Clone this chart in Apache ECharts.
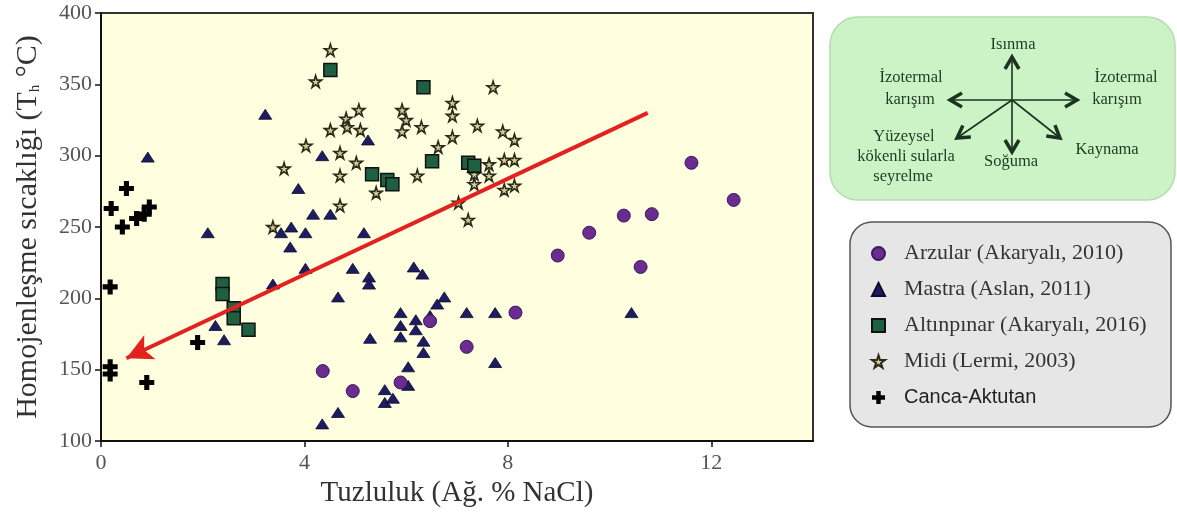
<!DOCTYPE html>
<html>
<head>
<meta charset="UTF-8">
<title>Tuzluluk - Homojenleşme sıcaklığı</title>
<script src="https://cdn.jsdelivr.net/npm/echarts@6/dist/echarts.min.js"></script>
<style>
  html, body { margin: 0; padding: 0; background: #fff; }
  #main { width: 1177px; height: 517px; }
</style>
</head>
<body>
<div id="main"></div>
<script type="text/javascript">
// [tuzluluk (% NaCl), Th (°C)]
var arzular = [[4.36,149],[4.95,135],[5.89,141],[6.47,184],[7.19,166],[8.15,190],[8.98,230],[9.6,246],
  [10.28,258],[10.61,222],[10.83,259],[11.61,295],[12.44,269]];
var mastra = [[0.92,299],[2.1,246],[2.25,181],[2.42,171],[3.23,329],[3.38,210],[3.54,246],[3.74,250],
  [3.72,236],[3.88,277],[4.02,246],[4.02,221],[4.17,259],[4.35,300],[4.35,112],[4.51,259],[4.66,201],
  [4.66,120],[4.95,221],[5.17,246],[5.25,311],[5.27,215],[5.27,210],[5.29,172],[5.58,136],[5.58,127],
  [5.74,130],[5.89,190],[5.89,181],[5.89,173],[6.04,152],[6.04,139],[6.15,222],[6.19,185],[6.19,178],
  [6.32,217],[6.34,170],[6.34,162],[6.47,188],[6.61,196],[6.75,201],[7.19,190],[7.75,190],[7.75,155],
  [10.43,190]];
var altinpinar = [[2.39,210],[2.39,203],[2.61,193],[2.61,186],[2.9,178],[4.51,360],[5.33,287],
  [5.63,283],[5.73,280],[6.34,348],[6.51,296],[7.22,295],[7.34,293]];
var midi = [[3.38,250],[3.6,291],[4.03,307],[4.22,352],[4.51,374],[4.51,318],[4.7,302],[4.7,286],
  [4.7,265],[4.82,326],[4.84,320],[5.02,295],[5.07,332],[5.1,318],[5.41,274],[5.92,332],[6.0,325],
  [5.92,317],[6.22,286],[6.3,320],[6.63,306],[6.91,337],[6.91,328],[6.91,313],[7.03,267],[7.22,255],
  [7.34,287],[7.34,280],[7.4,321],[7.63,294],[7.63,286],[7.71,348],[7.9,317],[8.13,311],[7.93,297],
  [8.13,297],[7.93,276],[8.13,279]];
var canca = [[0.2,263],[0.5,277],[0.42,250],[0.7,256],[0.85,259],[0.95,264],[0.18,208],[0.18,152],
  [0.18,147],[0.9,141],[1.9,169]];
// kırmızı ok: başlangıç -> uç
var trendArrow = [[10.75,330],[0.5,158]];
var xTicks = [0, 4, 8, 12];

var serif = "'Liberation Serif', 'Times New Roman', serif";
var sans = "'Liberation Sans', Arial, sans-serif";
var starPath = 'path://M50,0 L61,35 L98,35 L68,57 L79,91 L50,70 L21,91 L32,57 L2,35 L39,35 Z';
var crossPath = 'path://M33,0 H67 V33 H100 V67 H67 V100 H33 V67 H0 V33 H33 Z';

var myChart = echarts.init(document.getElementById('main'));

// süreç diyagramı (yeşil kutu) için ok çizimi
function arrow(x1, y1, x2, y2) {
  var dx = x2 - x1, dy = y2 - y1;
  var len = Math.sqrt(dx * dx + dy * dy);
  var ux = dx / len, uy = dy / len;
  var px = -uy, py = ux;
  var hl = 12, hw = 7;
  var bx = x2 - ux * hl, by = y2 - uy * hl;
  return [
    { type: 'line', shape: { x1: x1, y1: y1, x2: x2, y2: y2 }, style: { stroke: '#1d3322', lineWidth: 1.6 }, z: 2 },
    { type: 'polyline', shape: { points: [[bx + px * hw, by + py * hw], [x2, y2], [bx - px * hw, by - py * hw]] },
      style: { stroke: '#1d3322', lineWidth: 3.5, fill: null }, z: 2 }
  ];
}
function label(t, x, y) {
  return { type: 'text', x: x, y: y, z: 2,
    style: { text: t, font: '16.5px ' + serif, fill: '#1e3a24', align: 'center', verticalAlign: 'middle' } };
}

var cx = 1012, cy = 100;
var graphics = [
  { type: 'rect', shape: { x: 830, y: 17, width: 345, height: 183, r: 28 },
    style: { fill: '#ccf3c6', stroke: '#b4dcae', lineWidth: 1.5 }, z: 1 },
  { type: 'rect', shape: { x: 850, y: 222, width: 321, height: 205, r: 22 },
    style: { fill: '#e6e6e6', stroke: '#555', lineWidth: 1.5 }, z: 1 },
  label('Isınma', 1013, 45),
  label('İzotermal', 911, 78), label('karışım', 910, 100),
  label('İzotermal', 1126, 78), label('karışım', 1117, 100),
  label('Yüzeysel', 904, 137), label('kökenli sularla', 906, 157), label('seyrelme', 903, 177),
  label('Soğuma', 1011, 162), label('Kaynama', 1107, 150)
].concat(arrow(cx, cy, cx, 57), arrow(cx, cy, 950, cy), arrow(cx, cy, 1077, cy),
  arrow(cx, cy, cx, 152), arrow(cx, cy, 957, 138), arrow(cx, cy, 1060, 138));

var option = {
  backgroundColor: '#fff',
  animation: false,
  grid: { left: 101, right: 364, top: 13, bottom: 76, show: true,
    backgroundColor: '#ffffe0', borderColor: '#333', borderWidth: 2 },
  xAxis: {
    type: 'value', min: 0, max: 14, interval: 4,
    name: 'Tuzluluk (Ağ. % NaCl)', nameLocation: 'middle', nameGap: 38,
    nameTextStyle: { fontFamily: serif, fontSize: 29, color: '#333' },
    axisLine: { lineStyle: { color: '#111', width: 2 } },
    axisTick: { length: 6, customValues: xTicks, lineStyle: { color: '#111', width: 1.5 } },
    axisLabel: { fontFamily: serif, fontSize: 22, color: '#555', margin: 11, customValues: xTicks },
    splitLine: { show: false }
  },
  yAxis: {
    type: 'value', min: 100, max: 400, interval: 50,
    name: '{a|Homojenleşme sıcaklığı (T}{s|h}{a| °C)}', nameLocation: 'middle', nameGap: 58,
    nameTextStyle: { rich: {
      a: { fontFamily: serif, fontSize: 30, color: '#333' },
      s: { fontFamily: serif, fontSize: 15, color: '#333', verticalAlign: 'bottom' }
    } },
    axisLine: { lineStyle: { color: '#111', width: 2 } },
    axisTick: { length: 6, lineStyle: { color: '#111', width: 1.5 } },
    axisLabel: { fontFamily: serif, fontSize: 22, color: '#555', margin: 9 },
    splitLine: { show: false }
  },
  legend: {
    orient: 'vertical', left: 866, top: 237, z: 10,
    itemWidth: 13, itemHeight: 13, itemGap: 13,
    data: ['Arzular (Akaryalı, 2010)', 'Mastra (Aslan, 2011)', 'Altınpınar (Akaryalı, 2016)',
      'Midi (Lermi, 2003)', 'Canca-Aktutan'],
    formatter: function (name) {
      return name === 'Canca-Aktutan' ? '{b|' + name + '}' : '{a|' + name + '}';
    },
    textStyle: { lineHeight: 23, rich: {
      a: { fontFamily: serif, fontSize: 22, color: '#333', padding: [0, 0, 0, 14] },
      b: { fontFamily: sans, fontSize: 20, color: '#222', padding: [0, 0, 0, 14] }
    } }
  },
  graphic: graphics,
  series: [
    { name: 'Midi (Lermi, 2003)', type: 'scatter', data: midi, symbol: starPath, symbolSize: 12, z: 2,
      itemStyle: { color: '#d6cf94', borderColor: '#2b2a1c', borderWidth: 1.6, opacity: 1 } },
    { name: 'Mastra (Aslan, 2011)', type: 'scatter', data: mastra, symbol: 'triangle', symbolSize: [13, 10], z: 3,
      itemStyle: { color: '#1c1c5e', borderColor: '#0c0c33', borderWidth: 0.8, opacity: 1 } },
    { name: 'Altınpınar (Akaryalı, 2016)', type: 'scatter', data: altinpinar, symbol: 'rect', symbolSize: 13, z: 4,
      itemStyle: { color: '#1f6042', borderColor: '#111', borderWidth: 1.5, opacity: 1 } },
    { name: 'Arzular (Akaryalı, 2010)', type: 'scatter', data: arzular, symbol: 'circle', symbolSize: 13, z: 4,
      itemStyle: { color: '#6a2c90', borderColor: '#3e1958', borderWidth: 1, opacity: 1 } },
    { name: 'Canca-Aktutan', type: 'scatter', data: canca, symbol: crossPath, symbolSize: 15, z: 5,
      itemStyle: { color: '#000', opacity: 1 } },
    { name: 'ok', type: 'scatter', data: [], silent: true,
      markLine: {
        silent: true, animation: false,
        symbol: ['none', 'arrow'], symbolSize: [20, 26],
        label: { show: false },
        lineStyle: { color: '#e3221f', width: 4, type: 'solid' },
        data: [[{ coord: trendArrow[0] }, { coord: trendArrow[1] }]]
      } }
  ]
};

myChart.setOption(option);
</script>
</body>
</html>
